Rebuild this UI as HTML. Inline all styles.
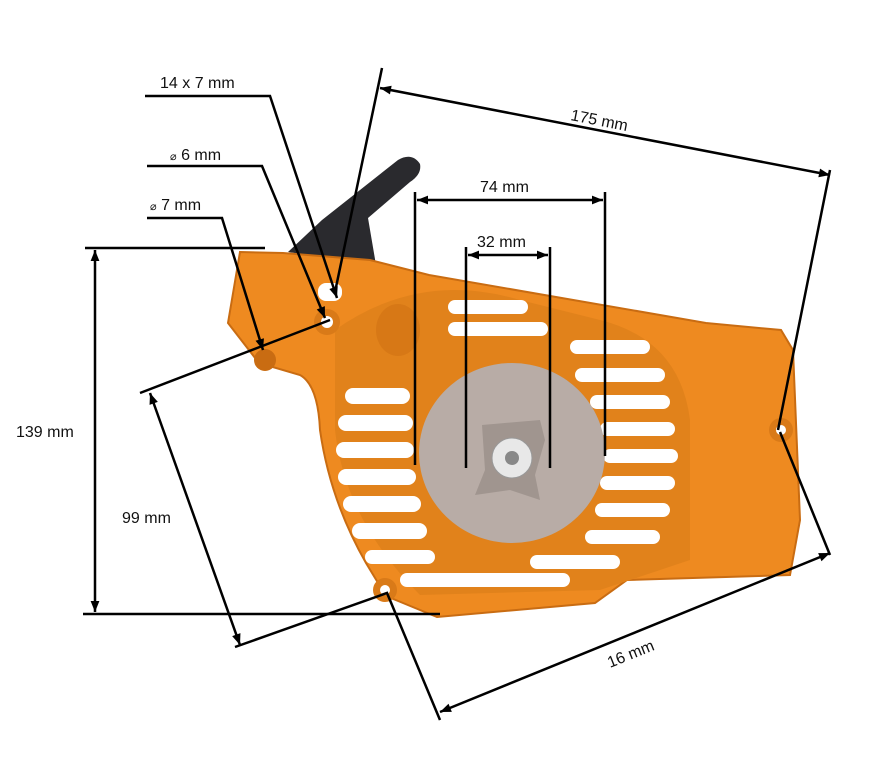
<!DOCTYPE html>
<html><head><meta charset="utf-8"><style>
html,body{margin:0;padding:0;background:#fff;}
svg{display:block}
text{font-family:"Liberation Sans",sans-serif;font-size:16px;fill:#111}
</style></head><body>
<svg width="872" height="768" viewBox="0 0 872 768" xmlns="http://www.w3.org/2000/svg">
<defs>
<marker id="b" viewBox="0 0 10 10" refX="10" refY="5" markerWidth="16" markerHeight="11" orient="auto-start-reverse" markerUnits="userSpaceOnUse">
<path d="M0,1 L10,5 L0,9 z" fill="#000"/>
</marker>
</defs>
<!-- handle -->
<path d="M288,252 L322,220 L398,160 Q412,152 420,164 Q422,174 410,182 L368,218 L376,265 Z" fill="#2a2a2e"/>
<!-- housing -->
<path d="M240,252 L283,253 L370,260 L429,275 L706,323 L781,330 L793,350 L800,520 L790,575 L627,580 L595,603 L437,617 L386,596 L366,563 Q330,500 320,430 Q318,385 300,375 L259,363 L228,323 Z" fill="#ee8a20" stroke="#c96c12" stroke-width="2"/>
<path d="M335,330 Q420,270 520,300 L600,320 Q680,340 690,420 L690,560 L600,590 L420,595 Q345,520 335,430 Z" fill="#e1821b"/>
<!-- grille slots -->
<g fill="#fff">
<rect x="345" y="388" width="65" height="16" rx="8"/>
<rect x="338" y="415" width="75" height="16" rx="8"/>
<rect x="336" y="442" width="78" height="16" rx="8"/>
<rect x="338" y="469" width="78" height="16" rx="8"/>
<rect x="343" y="496" width="78" height="16" rx="8"/>
<rect x="352" y="523" width="75" height="16" rx="8"/>
<rect x="365" y="550" width="70" height="14" rx="7"/>
<rect x="400" y="573" width="170" height="14" rx="7"/>
<rect x="448" y="300" width="80" height="14" rx="7"/>
<rect x="448" y="322" width="100" height="14" rx="7"/>
<rect x="570" y="340" width="80" height="14" rx="7"/>
<rect x="575" y="368" width="90" height="14" rx="7"/>
<rect x="590" y="395" width="80" height="14" rx="7"/>
<rect x="600" y="422" width="75" height="14" rx="7"/>
<rect x="603" y="449" width="75" height="14" rx="7"/>
<rect x="600" y="476" width="75" height="14" rx="7"/>
<rect x="595" y="503" width="75" height="14" rx="7"/>
<rect x="585" y="530" width="75" height="14" rx="7"/>
<rect x="530" y="555" width="90" height="14" rx="7"/>
</g>
<!-- holes -->
<circle cx="327" cy="322" r="13" fill="#d97a18"/><circle cx="327" cy="322" r="6" fill="#fff"/>
<rect x="318" y="283" width="24" height="18" rx="8" fill="#fff"/>
<circle cx="265" cy="360" r="11" fill="#c96c12"/>
<circle cx="385" cy="590" r="12" fill="#d97a18"/><circle cx="385" cy="590" r="5" fill="#fff"/>
<circle cx="781" cy="430" r="12" fill="#d97a18"/><circle cx="781" cy="430" r="5" fill="#fff"/>
<ellipse cx="398" cy="330" rx="22" ry="26" fill="#d77816"/>
<!-- pulley -->
<ellipse cx="512" cy="453" rx="93" ry="90" fill="#b8aca6"/>
<path d="M482,425 L540,420 L545,440 L535,475 L540,500 L510,490 L475,495 L485,470 Z" fill="#a0958f"/>
<circle cx="512" cy="458" r="20" fill="#e8e8e8" stroke="#999"/>
<circle cx="512" cy="458" r="7" fill="#888"/>
<!-- dimension lines -->
<g stroke="#000" stroke-width="2.5" fill="none">
<polyline points="145,96 270,96 337,298" marker-end="url(#b)"/>
<polyline points="147,166 262,166 325,318" marker-end="url(#b)"/>
<polyline points="147,218 222,218 263,350" marker-end="url(#b)"/>
<line x1="85" y1="248" x2="265" y2="248"/>
<line x1="83" y1="614" x2="440" y2="614"/>
<line x1="95" y1="250" x2="95" y2="612" marker-start="url(#b)" marker-end="url(#b)"/>
<line x1="140" y1="393" x2="330" y2="320"/>
<line x1="150" y1="393" x2="240" y2="645" marker-start="url(#b)" marker-end="url(#b)"/>
<polyline points="235,647 387,593 440,720"/>
<line x1="382" y1="68" x2="335" y2="292"/>
<line x1="830" y1="170" x2="778" y2="430"/>
<line x1="380" y1="88" x2="830" y2="175" marker-start="url(#b)" marker-end="url(#b)"/>
<line x1="780" y1="432" x2="830" y2="555"/>
<line x1="440" y1="712" x2="830" y2="553" marker-start="url(#b)" marker-end="url(#b)"/>
<line x1="415" y1="192" x2="415" y2="465"/>
<line x1="605" y1="192" x2="605" y2="456"/>
<line x1="417" y1="200" x2="603" y2="200" marker-start="url(#b)" marker-end="url(#b)"/>
<line x1="466" y1="247" x2="466" y2="468"/>
<line x1="550" y1="247" x2="550" y2="468"/>
<line x1="468" y1="255" x2="548" y2="255" marker-start="url(#b)" marker-end="url(#b)"/>
</g>
<text x="160" y="88">14 x 7 mm</text>
<text x="170" y="160"><tspan font-size="11">⌀</tspan> 6 mm</text>
<text x="150" y="210"><tspan font-size="11">⌀</tspan> 7 mm</text>
<text x="16" y="437">139 mm</text>
<text x="122" y="523">99 mm</text>
<text x="480" y="192">74 mm</text>
<text x="477" y="247">32 mm</text>
<text x="570" y="120" transform="rotate(11 570 120)">175 mm</text>
<text x="610" y="668" transform="rotate(-22 610 668)">16 mm</text>
</svg>
</body></html>
